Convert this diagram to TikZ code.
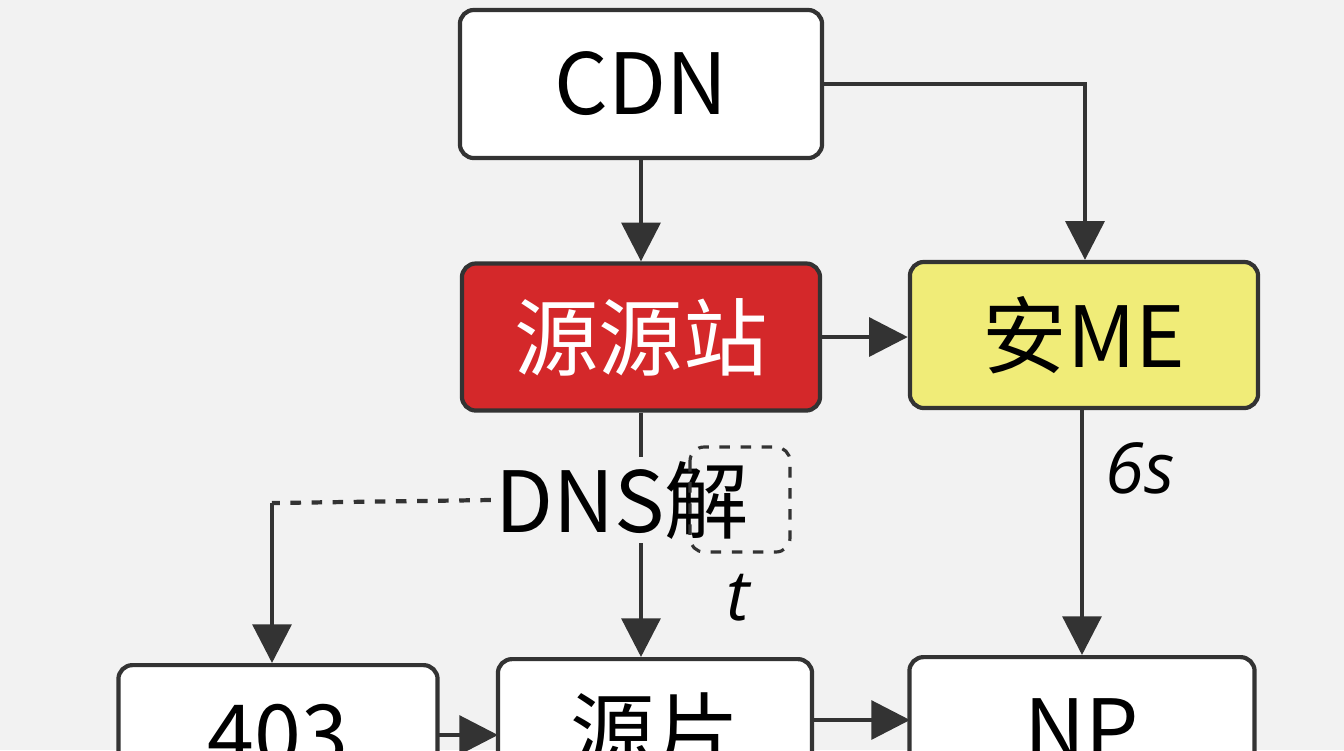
\documentclass[tikz,border=0pt]{standalone}
\usepackage{fontspec}
\setmainfont{Noto Sans CJK SC}
\newfontfamily\latinit{Open Sans}
\usetikzlibrary{arrows.meta}
\definecolor{srcred}{RGB}{212,40,42}
\definecolor{meyel}{RGB}{240,236,120}
\begin{document}
\begin{tikzpicture}[x=0.01cm,y=-0.01cm]
    \tikzstyle{box} = [draw=black!80, line width=1.2pt, rounded corners=4pt,
    fill=white, font=\fontsize{24}{28}\selectfont, inner sep=0pt];
    \tikzstyle{ar} = [black!80, line width=1.2pt, -{Triangle[length=11pt,width=11pt]}];
    \tikzstyle{gd} = [black!80, line width=1.2pt, dashed];
    \tikzstyle{lbl} = [font=\latinit\itshape\fontsize{20}{24}\selectfont];

    \useasboundingbox (0,0) rectangle (1344,750);
    \clip (0,0) rectangle (1344,750);
    \fill[black!5] (0,0) rectangle (1344,750);

    \node[box, minimum width=3.62cm, minimum height=1.48cm] (cdn) at (641,84) {CDN};
    \node[box, fill=srcred, text=white, minimum width=3.58cm, minimum height=1.47cm]
        (src) at (641,337) {源源站};
    \node[box, fill=meyel, minimum width=3.48cm, minimum height=1.46cm]
        (anme) at (1084,335) {安ME};
    \node[box, minimum width=3.19cm, minimum height=1.6cm, anchor=north] (e403) at (278,663) {};
    \node[font=\fontsize{24}{28}\selectfont] at (278,735) {403};
    \node[box, minimum width=3.14cm, minimum height=1.6cm, anchor=north] (piece) at (655,657) {};
    \node[font=\fontsize{24}{28}\selectfont] at (655,732) {源片};
    \node[box, minimum width=3.45cm, minimum height=1.6cm, anchor=north] (np) at (1082,655) {};
    \node[font=\fontsize{24}{28}\selectfont] at (1082,730) {NP};

    \node[font=\fontsize{24}{28}\selectfont, inner sep=1pt] (dns) at (622,500) {DNS解};
    \draw[gd, rounded corners=4pt, line width=0.9pt] (690,447) rectangle (790,552);
    \node[lbl] (t) at (738,598) {t};
    \node[lbl] (six) at (1140,468) {6s};

    \coordinate (c1) at (1085,84);
    \coordinate (c2) at (272,503);

    \draw[ar] (cdn.south) -- (src.north);
    \draw[ar] (cdn.east) -- (c1) -- (c1 |- anme.north);
    \draw[ar] (src.east) -- (src.east -| anme.west);
    \draw[black!80, line width=1.2pt] (src.south) -- (dns.north -| src.south);
    \draw[ar] (dns.south -| src.south) -- (piece.north -| src.south);
    \draw[gd] (dns.west) -- (c2);
    \draw[ar] (c2) -- (c2 |- e403.north);
    \draw[ar] (anme.south -| np.north) -- (np.north);
    \draw[ar] (437,735) -- (498,735);
    \draw[ar] (812,720) -- (910,720);
\end{tikzpicture}
\end{document}
